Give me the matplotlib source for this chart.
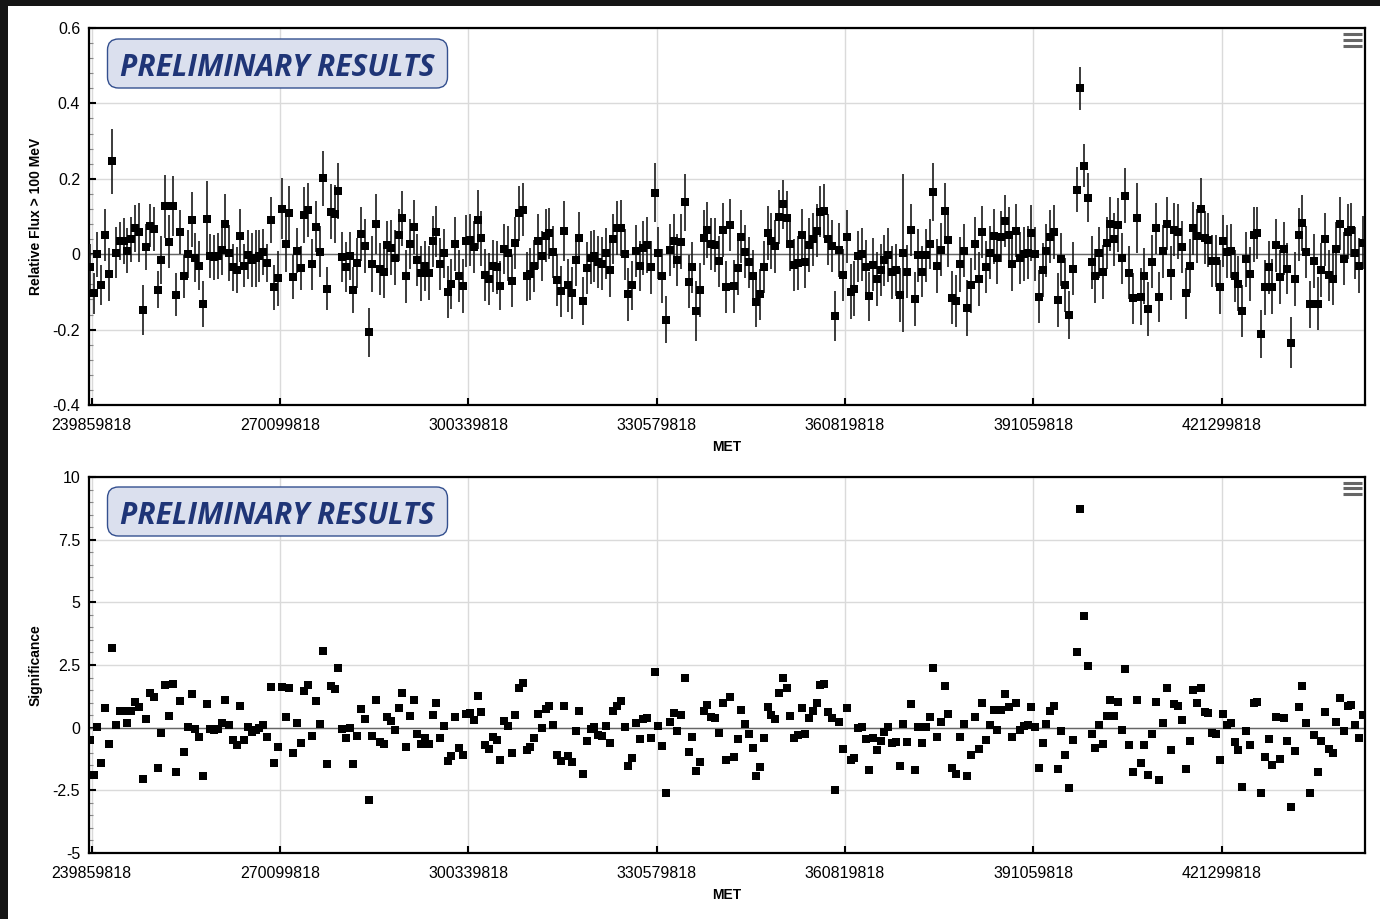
import numpy as np
import matplotlib
matplotlib.use('Agg')
import matplotlib.pyplot as plt
from matplotlib.patches import FancyBboxPatch, Rectangle
from matplotlib.lines import Line2D
from matplotlib.ticker import AutoMinorLocator

# ============================================================
# Data (weekly bins)
# ============================================================
MET0 = 239859818
WEEK = 604800

flux = [
    -0.034, -0.104, 0.000, -0.081, 0.050, -0.053, 0.246, 0.004, 0.035, 0.035,
    0.009, 0.039, 0.069, 0.058, -0.148, 0.019, 0.076, 0.066, -0.094, -0.016,
    0.127, 0.033, 0.127, -0.107, 0.058, -0.058, 0.001, 0.092, -0.009, -0.030,
    -0.131, 0.093, -0.005, -0.008, -0.005, 0.011, 0.081, 0.004, -0.035, -0.042,
    0.049, -0.030, -0.002, -0.015, -0.011, -0.005, 0.006, -0.023, 0.091, -0.088,
    -0.064, 0.121, 0.027, 0.108, -0.060, 0.009, -0.037, 0.104, 0.118, -0.027,
    0.073, 0.007, 0.202, -0.091, 0.113, 0.106, 0.168, -0.007, -0.033, -0.005,
    -0.094, -0.023, 0.053, 0.021, -0.207, -0.027, 0.080, -0.040, -0.046, 0.025,
    0.017, -0.009, 0.050, 0.095, -0.059, 0.027, 0.072, -0.016, -0.050, -0.031,
    -0.049, 0.034, 0.060, -0.027, 0.002, -0.099, -0.080, 0.027, -0.059, -0.084,
    0.034, 0.037, 0.019, 0.092, 0.042, -0.055, -0.065, -0.032, -0.035, -0.084,
    0.014, 0.003, -0.072, 0.031, 0.108, 0.118, -0.059, -0.053, -0.032, 0.034,
    -0.004, 0.049, 0.055, 0.006, -0.068, -0.098, 0.062, -0.083, -0.104, -0.015,
    0.043, -0.125, -0.037, -0.009, -0.004, -0.021, -0.025, 0.002, -0.042, 0.040,
    0.070, 0.070, 0.000, -0.106, -0.083, 0.009, -0.031, 0.017, 0.025, -0.035,
    0.163, 0.003, -0.058, -0.174, 0.011, 0.035, -0.015, 0.033, 0.138, -0.073,
    -0.035, -0.150, -0.095, 0.044, 0.065, 0.027, 0.025, -0.019, 0.065, -0.087,
    0.078, -0.085, -0.037, 0.046, 0.007, -0.022, -0.058, -0.128, -0.106, -0.034,
    0.057, 0.035, 0.021, 0.099, 0.132, 0.097, 0.027, -0.029, -0.024, 0.050,
    -0.021, 0.024, 0.040, 0.062, 0.113, 0.115, 0.039, 0.022, -0.164, 0.012,
    -0.055, 0.046, -0.099, -0.091, -0.006, 0.000, -0.035, -0.112, -0.028, -0.065,
    -0.042, -0.016, -0.002, -0.048, -0.042, -0.108, 0.003, -0.046, 0.064, -0.118,
    -0.003, -0.046, -0.003, 0.027, 0.165, -0.031, 0.012, 0.115, 0.038, -0.115,
    -0.124, -0.027, 0.009, -0.142, -0.083, 0.028, -0.066, 0.059, -0.034, 0.004,
    0.047, -0.010, 0.046, 0.088, 0.052, -0.027, 0.062, -0.010, 0.000, 0.004,
    0.057, 0.000, -0.113, -0.042, 0.009, 0.046, 0.058, -0.122, -0.014, -0.082,
    -0.162, -0.038, 0.171, 0.440, 0.235, 0.150, -0.022, -0.058, 0.004, -0.047,
    0.030, 0.080, 0.040, 0.077, -0.011, 0.155, -0.049, -0.117, 0.097, -0.113,
    -0.058, -0.145, -0.020, 0.069, -0.113, 0.008, 0.081, -0.050, 0.065, 0.060,
    0.019, -0.104, -0.031, 0.069, 0.048, 0.121, 0.044, 0.038, -0.018, -0.018,
    -0.087, 0.035, 0.007, 0.009, -0.058, -0.078, -0.151, -0.014, -0.053, 0.052,
    0.056, -0.212, -0.088, -0.035, -0.086, 0.024, -0.060, 0.015, -0.038, -0.235,
    -0.066, 0.052, 0.083, 0.006, -0.133, -0.018, -0.131, -0.042, 0.040, -0.056,
    -0.066, 0.013, 0.081, -0.012, 0.060, 0.064, 0.003, -0.030, 0.031,
]

flux_err = [
    0.062, 0.055, 0.060, 0.053, 0.069, 0.070, 0.085, 0.067, 0.050, 0.060,
    0.060, 0.060, 0.062, 0.078, 0.065, 0.062, 0.056, 0.058, 0.050, 0.064,
    0.083, 0.070, 0.080, 0.058, 0.058, 0.057, 0.063, 0.073, 0.066, 0.064,
    0.061, 0.100, 0.058, 0.060, 0.062, 0.066, 0.078, 0.074, 0.062, 0.060,
    0.070, 0.058, 0.065, 0.072, 0.076, 0.070, 0.062, 0.050, 0.060, 0.059,
    0.073, 0.081, 0.075, 0.073, 0.058, 0.060, 0.058, 0.074, 0.072, 0.068,
    0.067, 0.068, 0.073, 0.058, 0.074, 0.077, 0.074, 0.066, 0.066, 0.064,
    0.061, 0.066, 0.072, 0.072, 0.065, 0.074, 0.080, 0.069, 0.071, 0.064,
    0.073, 0.073, 0.069, 0.073, 0.071, 0.066, 0.071, 0.069, 0.073, 0.066,
    0.072, 0.068, 0.068, 0.069, 0.064, 0.069, 0.066, 0.072, 0.069, 0.071,
    0.069, 0.069, 0.070, 0.078, 0.072, 0.069, 0.069, 0.069, 0.071, 0.065,
    0.067, 0.073, 0.069, 0.069, 0.074, 0.071, 0.064, 0.069, 0.069, 0.073,
    0.066, 0.071, 0.068, 0.069, 0.069, 0.068, 0.080, 0.069, 0.069, 0.069,
    0.070, 0.064, 0.069, 0.070, 0.069, 0.069, 0.070, 0.068, 0.072, 0.066,
    0.072, 0.075, 0.068, 0.070, 0.066, 0.069, 0.067, 0.071, 0.074, 0.070,
    0.078, 0.068, 0.072, 0.062, 0.070, 0.072, 0.069, 0.073, 0.076, 0.070,
    0.068, 0.080, 0.071, 0.072, 0.074, 0.070, 0.071, 0.068, 0.072, 0.070,
    0.069, 0.070, 0.072, 0.070, 0.071, 0.068, 0.070, 0.066, 0.068, 0.070,
    0.072, 0.074, 0.070, 0.072, 0.066, 0.070, 0.071, 0.069, 0.072, 0.070,
    0.068, 0.072, 0.070, 0.070, 0.068, 0.072, 0.068, 0.070, 0.066, 0.072,
    0.070, 0.070, 0.074, 0.072, 0.068, 0.070, 0.072, 0.066, 0.070, 0.072,
    0.070, 0.068, 0.072, 0.070, 0.068, 0.072, 0.210, 0.070, 0.068, 0.072,
    0.070, 0.068, 0.070, 0.066, 0.076, 0.072, 0.070, 0.074, 0.072, 0.070,
    0.068, 0.072, 0.070, 0.074, 0.072, 0.070, 0.072, 0.070, 0.068, 0.070,
    0.072, 0.070, 0.068, 0.070, 0.072, 0.070, 0.070, 0.068, 0.072, 0.070,
    0.074, 0.072, 0.070, 0.072, 0.070, 0.070, 0.072, 0.072, 0.070, 0.072,
    0.064, 0.070, 0.060, 0.057, 0.058, 0.065, 0.070, 0.072, 0.068, 0.072,
    0.070, 0.072, 0.070, 0.072, 0.068, 0.073, 0.070, 0.068, 0.093, 0.076,
    0.074, 0.072, 0.070, 0.068, 0.066, 0.070, 0.070, 0.072, 0.070, 0.072,
    0.070, 0.068, 0.072, 0.070, 0.072, 0.080, 0.070, 0.072, 0.070, 0.068,
    0.072, 0.070, 0.070, 0.072, 0.070, 0.072, 0.068, 0.074, 0.072, 0.072,
    0.070, 0.064, 0.072, 0.070, 0.072, 0.070, 0.072, 0.070, 0.068, 0.068,
    0.072, 0.070, 0.074, 0.070, 0.062, 0.072, 0.070, 0.072, 0.070, 0.068,
    0.070, 0.072, 0.070, 0.070, 0.074, 0.072, 0.070, 0.072, 0.070,
]

signif = [
    -0.51, -1.88, 0.01, -1.40, 0.80, -0.66, 3.16, 0.09, 0.66, 0.66,
    0.17, 0.68, 1.02, 0.81, -2.03, 0.35, 1.40, 1.21, -1.62, -0.20,
    1.70, 0.47, 1.76, -1.77, 1.06, -0.97, 0.04, 1.36, -0.07, -0.36,
    -1.91, 0.93, -0.04, -0.11, -0.04, 0.20, 1.12, 0.11, -0.51, -0.69,
    0.88, -0.49, 0.03, -0.19, -0.11, -0.03, 0.11, -0.37, 1.61, -1.41,
    -0.77, 1.61, 0.41, 1.57, -1.00, 0.20, -0.60, 1.48, 1.69, -0.33,
    1.08, 0.15, 3.05, -1.44, 1.68, 1.53, 2.39, -0.05, -0.40, -0.03,
    -1.46, -0.32, 0.76, 0.33, -2.90, -0.33, 1.10, -0.56, -0.65, 0.41,
    0.28, -0.08, 0.78, 1.37, -0.77, 0.45, 1.12, -0.25, -0.64, -0.40,
    -0.65, 0.52, 0.98, -0.40, 0.08, -1.33, -1.12, 0.43, -0.80, -1.10,
    0.56, 0.60, 0.32, 1.28, 0.64, -0.70, -0.86, -0.39, -0.51, -1.28,
    0.27, 0.07, -1.01, 0.49, 1.57, 1.78, -0.89, -0.78, -0.41, 0.55,
    -0.01, 0.76, 0.85, 0.12, -1.08, -1.32, 0.85, -1.13, -1.38, -0.15,
    0.66, -1.85, -0.52, -0.04, 0.03, -0.29, -0.33, 0.07, -0.61, 0.66,
    0.86, 1.06, 0.04, -1.53, -1.20, 0.19, -0.45, 0.33, 0.40, -0.43,
    2.23, 0.08, -0.74, -2.59, 0.23, 0.59, -0.15, 0.49, 1.97, -0.97,
    -0.37, -1.74, -1.36, 0.68, 0.92, 0.43, 0.40, -0.23, 0.97, -1.30,
    1.22, -1.17, -0.47, 0.69, 0.15, -0.25, -0.80, -1.93, -1.58, -0.40,
    0.81, 0.51, 0.35, 1.40, 1.99, 1.57, 0.47, -0.43, -0.29, 0.77,
    -0.27, 0.40, 0.66, 1.00, 1.69, 1.73, 0.61, 0.37, -2.47, 0.24,
    -0.84, 0.78, -1.28, -1.21, -0.03, 0.04, -0.45, -1.69, -0.40, -0.88,
    -0.55, -0.19, 0.01, -0.61, -0.59, -1.53, 0.16, -0.59, 0.96, -1.68,
    0.01, -0.60, 0.01, 0.44, 2.37, -0.39, 0.21, 1.66, 0.56, -1.60,
    -1.85, -0.37, 0.16, -1.94, -1.09, 0.44, -0.85, 0.97, -0.49, 0.11,
    0.72, -0.09, 0.72, 1.33, 0.81, -0.39, 0.98, -0.11, 0.05, 0.12,
    0.82, 0.04, -1.61, -0.61, 0.16, 0.66, 0.85, -1.66, -0.15, -1.09,
    -2.39, -0.51, 3.02, 8.74, 4.45, 2.45, -0.27, -0.80, 0.11, -0.66,
    0.45, 1.09, 0.47, 1.04, -0.09, 2.33, -0.69, -1.76, 1.12, -1.42,
    -0.68, -1.90, -0.27, 1.02, -2.10, 0.19, 1.60, -0.90, 0.94, 0.85,
    0.31, -1.65, -0.52, 1.52, 0.98, 1.60, 0.64, 0.60, -0.23, -0.25,
    -1.30, 0.55, 0.11, 0.17, -0.56, -0.88, -2.35, -0.15, -0.69, 0.97,
    1.01, -2.62, -1.17, -0.47, -1.48, 0.44, -1.25, 0.37, -0.55, -3.15,
    -0.93, 0.82, 1.68, 0.17, -2.62, -0.28, -1.77, -0.52, 0.64, -0.86,
    -1.02, 0.24, 1.17, -0.12, 0.88, 0.92, 0.09, -0.40, 0.49,
]

assert len(flux) == len(flux_err) == len(signif)

# bin centres: one point per week, first one half a bin before MET0
met = MET0 + WEEK * (np.arange(len(flux)) - 0.5)

x_ticks = [239859818, 270099818, 300339818, 330579818,
           360819818, 391059818, 421299818]
x_tick_labels = [str(v) for v in x_ticks]

flux_ticks = [0.6, 0.4, 0.2, 0.0, -0.2, -0.4]
flux_tick_labels = ['0.6', '0.4', '0.2', '0', '-0.2', '-0.4']
sig_ticks = [10, 7.5, 5, 2.5, 0, -2.5, -5]
sig_tick_labels = ['10', '7.5', '5', '2.5', '0', '-2.5', '-5']

# ============================================================
# Figure
# ============================================================
W, H = 1380, 919
plt.rcParams['font.family'] = ['Liberation Sans', 'DejaVu Sans']
plt.rcParams['axes.unicode_minus'] = False

fig = plt.figure(figsize=(W / 100, H / 100), dpi=100, facecolor='#151515')
# white page inside the dark screenshot frame
fig.add_artist(Rectangle((8 / W, 0), 1, 1 - 6 / H, transform=fig.transFigure,
                         facecolor='white', edgecolor='none', zorder=-10))


def px_rect(left, top, right, bottom):
    return [left / W, 1 - bottom / H, (right - left) / W, (bottom - top) / H]


ax1 = fig.add_axes(px_rect(88.5, 28, 1365, 405))
ax2 = fig.add_axes(px_rect(88.5, 477, 1365, 853))

x_lo = met[0] - 0.35 * WEEK
x_hi = met[-1] + 0.6 * WEEK


def style(ax, yticks, ylabels, ylabel, xlabel_y):
    ax.set_xlim(x_lo, x_hi)
    ax.set_ylim(min(yticks), max(yticks))
    ax.set_xticks(x_ticks)
    ax.set_xticklabels(x_tick_labels)
    ax.set_yticks(yticks)
    ax.set_yticklabels(ylabels)
    ax.yaxis.set_minor_locator(AutoMinorLocator(5))
    ax.grid(True, which='major', color='#dadada', lw=1.0)
    ax.set_axisbelow(True)
    ax.axhline(0, color='#666666', lw=1.0, zorder=1.5)
    for s in ax.spines.values():
        s.set_linewidth(1.6)
        s.set_color('black')
    ax.tick_params(axis='both', which='major', direction='in', length=5,
                   width=1.5, labelsize=11.5, colors='black')
    ax.tick_params(axis='y', which='major', pad=6)
    ax.tick_params(axis='x', which='major', pad=9.5)
    ax.tick_params(axis='y', which='minor', direction='in', length=3,
                   width=0.8, color='#888888')
    ax.tick_params(axis='x', which='minor', bottom=False)
    ax.set_xlabel('MET', fontsize=10, fontweight='bold')
    ax.xaxis.set_label_coords(0.5, xlabel_y)
    ax.xaxis.label.set_verticalalignment('top')
    ax.set_ylabel(ylabel, fontsize=10, fontweight='bold')
    ax.yaxis.set_label_coords(-0.036, 0.5)


style(ax1, flux_ticks, flux_tick_labels, 'Relative Flux > 100 MeV', -0.093)
style(ax2, sig_ticks, sig_tick_labels, 'Significance', -0.094)

ax1.errorbar(met, flux, yerr=flux_err, fmt='s', color='black', ms=5.3,
             mew=0, ecolor='#1a1a1a', elinewidth=1.2, capsize=1.4,
             capthick=1.0, zorder=3)
ax2.plot(met, signif, 's', color='black', ms=5.3, mew=0, zorder=3)

# "PRELIMINARY RESULTS" badges and menu icons, placed in page pixels
to_in = fig.dpi_scale_trans
for top in (39, 487):
    box = FancyBboxPatch((107.5 / 100, (H - top - 49) / 100), 340 / 100, 49 / 100,
                         boxstyle='round,pad=0,rounding_size=0.11',
                         transform=to_in, facecolor='#dbe0ee',
                         edgecolor='#34508f', lw=1.0, zorder=5)
    fig.add_artist(box)
    fig.text(277 / 100, (H - top - 36.5) / 100, 'PRELIMINARY RESULTS',
             transform=to_in, ha='center', va='baseline', fontsize=21.5,
             fontweight='bold', fontstyle='italic', color='#1f3577',
             family=['Open Sans', 'DejaVu Sans'], zorder=6)

for y0 in (34.5, 482.5):
    for dy in (0, 5.8, 11.6):
        fig.add_artist(Line2D([1343 / 100, 1362 / 100],
                              [(H - y0 - dy) / 100] * 2, transform=to_in,
                              color='#666666', lw=2.2, solid_capstyle='butt',
                              zorder=6))

fig.savefig('out.png', dpi=100, facecolor=fig.get_facecolor())
